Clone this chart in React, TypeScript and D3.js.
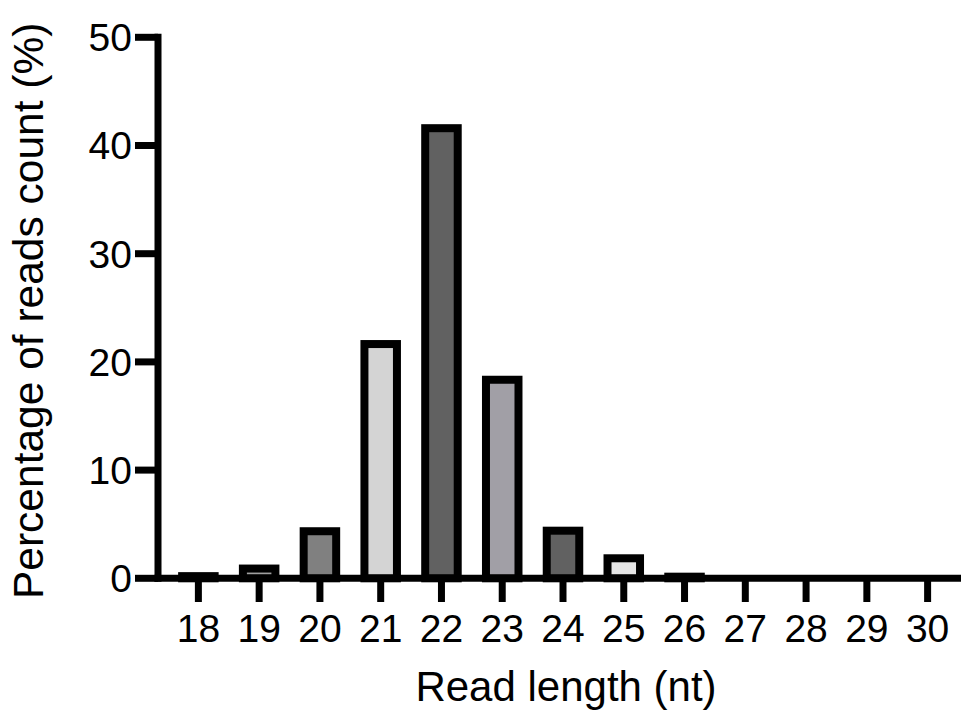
import React from 'react';
import * as d3 from 'd3';

const categories = ['18', '19', '20', '21', '22', '23', '24', '25', '26', '27', '28', '29', '30'];
const readPercent = [0.2, 0.9, 4.35, 21.65, 41.6, 18.35, 4.4, 1.85, 0.15, 0, 0, 0, 0];
const barFills = ['#5e5e5e', '#a0a0a0', '#808080', '#d4d4d4', '#616161', '#a19fa6', '#616161', '#e6e6e6', '#808080', '#808080', '#808080', '#808080', '#808080'];
const yTicks = [0, 10, 20, 30, 40, 50];

const W = 961;
const H = 721;
const axisX = 158;
const font = '"Liberation Sans", Arial, sans-serif';

const App = () => {
  const x = d3
    .scaleBand<string>()
    .domain(categories)
    .range([168, 958])
    .paddingInner(0.465)
    .paddingOuter(0.2325);
  const y = d3.scaleLinear().domain([0, 50]).range([578.3, 37.3]);
  const bw = x.bandwidth();

  return (
    <svg width={W} height={H} style={{ position: 'absolute', left: 0, top: 0, background: '#fff' }}>
      {/* bars */}
      {categories.map((c, i) =>
        readPercent[i] > 0 ? (
          <rect
            key={c}
            x={x(c)}
            y={y(readPercent[i])}
            width={bw}
            height={y(0) - y(readPercent[i])}
            fill={barFills[i]}
            stroke="#000"
            strokeWidth={8}
          />
        ) : null
      )}

      {/* y axis */}
      <line x1={axisX} x2={axisX} y1={y(50) - 3.5} y2={y(0) + 3.5} stroke="#000" strokeWidth={7} />
      {yTicks.map(t => (
        <g key={t}>
          <line x1={135} x2={axisX} y1={y(t)} y2={y(t)} stroke="#000" strokeWidth={7} />
          <text
            x={132}
            y={y(t)}
            dy="0.355em"
            textAnchor="end"
            fontFamily={font}
            fontSize={39}
            fill="#000"
          >
            {t}
          </text>
        </g>
      ))}

      {/* x axis */}
      <line x1={axisX - 3.5} x2={W} y1={y(0)} y2={y(0)} stroke="#000" strokeWidth={7} />
      {categories.map(c => {
        const cx = (x(c) as number) + bw / 2;
        return (
          <g key={c}>
            <line x1={cx} x2={cx} y1={y(0)} y2={602} stroke="#000" strokeWidth={7} />
            <text x={cx} y={641.5} textAnchor="middle" fontFamily={font} fontSize={39} fill="#000">
              {c}
            </text>
          </g>
        );
      })}

      {/* axis titles */}
      <text x={566} y={701} textAnchor="middle" fontFamily={font} fontSize={42} fill="#000">
        Read length (nt)
      </text>
      <text
        transform={`translate(43, ${(y(0) + y(50)) / 2 + 3}) rotate(-90)`}
        textAnchor="middle"
        fontFamily={font}
        fontSize={42.5}
        fill="#000"
      >
        Percentage of reads count (%)
      </text>
    </svg>
  );
};

export default App;
